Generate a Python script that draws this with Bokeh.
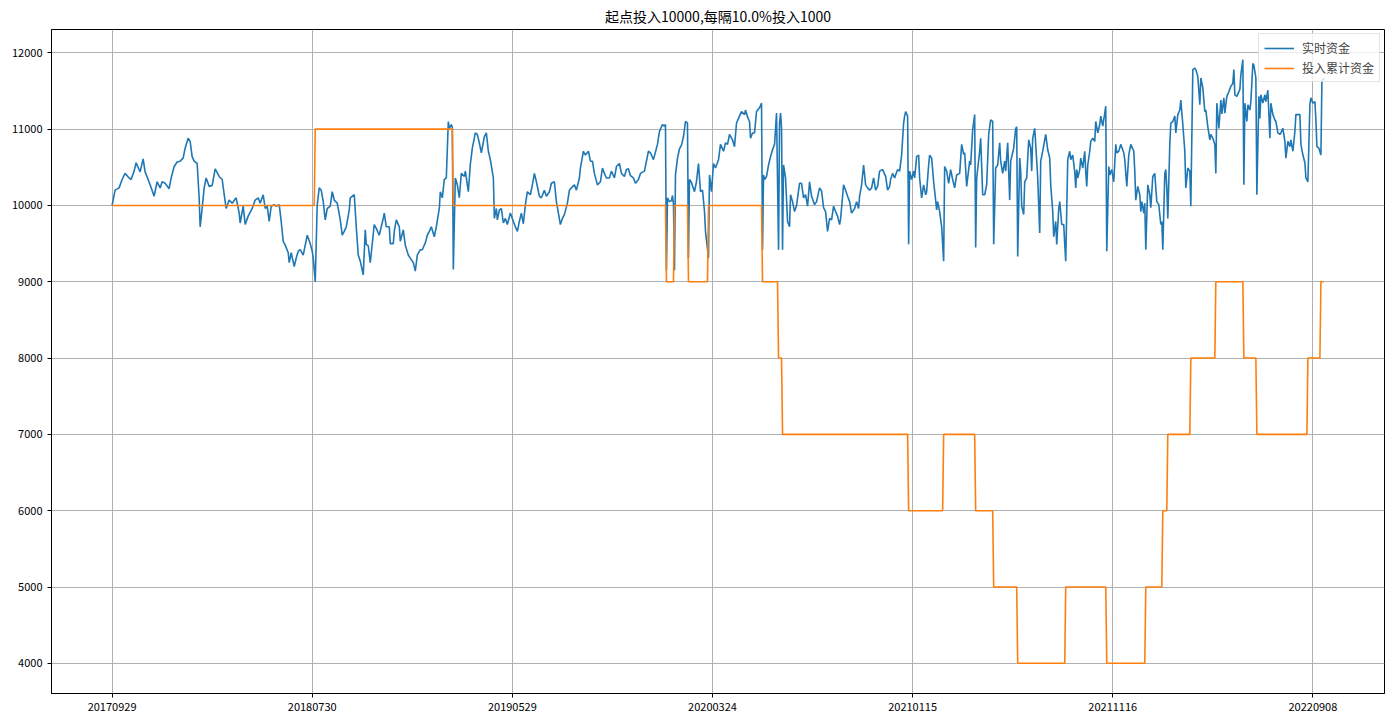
from bokeh.plotting import figure
from bokeh.models import FixedTicker, NumeralTickFormatter, Range1d, Legend, LegendItem
from bokeh.embed import file_html
from bokeh.resources import INLINE

title_text = "起点投入10000,每隔10.0%投入1000"
series_names = ["实时资金", "投入累计资金"]

tick_idx = [0, 200, 400, 600, 800, 1000, 1200]
tick_dates = ["20170929", "20180730", "20190529", "20200324", "20210115", "20211116", "20220908"]
y_ticks = [4000, 5000, 6000, 7000, 8000, 9000, 10000, 11000, 12000]

last_idx = 1211

# 实时资金 (day index, value)
blue_pts = [
    (0, 10000), (3, 10200), (7, 10230), (10, 10340), (13, 10420), (17, 10360), (19, 10340), (22, 10450),
    (24, 10560), (28, 10440), (31, 10610), (33, 10440), (36, 10340), (38, 10270), (42, 10120), (45, 10310),
    (48, 10230), (50, 10310), (53, 10290), (57, 10220), (59, 10360), (62, 10510), (65, 10570), (68, 10580),
    (71, 10620), (73, 10750), (76, 10880), (78, 10840), (80, 10640), (82, 10580), (85, 10550), (87, 10100),
    (88, 9720), (90, 9960), (92, 10230), (94, 10360), (97, 10250), (100, 10260), (103, 10480), (107, 10380),
    (110, 10340), (113, 10050), (114, 9960), (117, 10070), (120, 10030), (124, 10100), (127, 9900), (128, 9770),
    (131, 9990), (133, 9750), (136, 9860), (140, 9960), (143, 10070), (146, 10100), (148, 10030), (151, 10140),
    (153, 9960), (155, 9990), (157, 9790), (159, 9990), (162, 10010), (164, 9990), (167, 10010), (169, 9790),
    (171, 9530), (173, 9480), (176, 9380), (177, 9250), (179, 9380), (182, 9200), (184, 9310), (186, 9400),
    (188, 9420), (191, 9350), (193, 9480), (195, 9610), (198, 9500), (200, 9400), (201, 9310), (203, 9000),
    (205, 10010), (207, 10230), (209, 10200), (211, 10050), (213, 9810), (215, 9960), (218, 9990), (220, 10180),
    (222, 10070), (225, 10030), (228, 9810), (230, 9610), (232, 9660), (234, 9720), (237, 9940), (238, 10100),
    (242, 10140), (244, 9720), (246, 9350), (248, 9270), (251, 9090), (253, 9680), (254, 9490), (256, 9470),
    (258, 9250), (262, 9750), (264, 9700), (267, 9610), (269, 9720), (271, 9830), (272, 9900), (274, 9720),
    (277, 9720), (278, 9500), (281, 9500), (282, 9660), (284, 9810), (287, 9720), (288, 9530), (291, 9680),
    (293, 9480), (296, 9350), (298, 9310), (301, 9250), (303, 9140), (305, 9350), (308, 9420), (310, 9420),
    (313, 9510), (315, 9610), (317, 9660), (319, 9720), (322, 9590), (324, 9720), (327, 9960), (328, 10180),
    (330, 10100), (332, 10340), (334, 10360), (336, 11100), (337, 11010), (339, 11060), (340, 11020), (341, 9160),
    (343, 10360), (345, 10270), (347, 10100), (349, 10420), (352, 10380), (353, 10450), (356, 10180), (358, 10540),
    (360, 10750), (363, 10950), (365, 10930), (367, 10820), (369, 10690), (372, 10900), (374, 10950), (376, 10710),
    (378, 10600), (381, 10360), (382, 9830), (384, 9960), (385, 9810), (387, 9940), (389, 9960), (391, 9770),
    (393, 9830), (395, 9750), (398, 9900), (401, 9790), (403, 9720), (405, 9660), (407, 9790), (409, 9900),
    (411, 9760), (413, 10010), (415, 10180), (418, 10140), (420, 10270), (422, 10420), (424, 10310), (427, 10120),
    (429, 10100), (432, 10200), (434, 10120), (437, 10180), (439, 10290), (442, 10310), (444, 10050), (448, 9750),
    (450, 9830), (452, 9880), (455, 10030), (457, 10200), (459, 10230), (462, 10270), (464, 10200), (467, 10360),
    (468, 10490), (471, 10710), (473, 10660), (476, 10710), (478, 10580), (480, 10580), (482, 10420), (485, 10270),
    (488, 10310), (490, 10490), (492, 10420), (494, 10360), (497, 10360), (499, 10450), (502, 10360), (504, 10510),
    (507, 10550), (509, 10420), (512, 10380), (514, 10470), (516, 10480), (518, 10390), (521, 10360), (523, 10290),
    (526, 10340), (528, 10420), (532, 10450), (534, 10580), (536, 10710), (538, 10690), (541, 10600), (543, 10700),
    (545, 10800), (547, 10970), (550, 11060), (552, 11040), (553, 11060), (554, 9150), (555, 10100), (557, 10050),
    (559, 10060), (560, 10130), (561, 10020), (562, 9150), (563, 10400), (565, 10620), (567, 10740), (569, 10790),
    (571, 10900), (573, 11100), (575, 11080), (576, 9310), (577, 10340), (579, 10300), (582, 10180), (584, 10310),
    (586, 10550), (588, 10180), (590, 10200), (592, 9920), (593, 9660), (596, 9310), (597, 10400), (599, 10180),
    (601, 10550), (603, 10490), (606, 10600), (608, 10800), (611, 10710), (613, 10820), (615, 10800), (617, 10930),
    (620, 10860), (622, 10770), (624, 11080), (627, 11170), (629, 11230), (632, 11190), (633, 11250), (635, 11160),
    (637, 11100), (638, 10880), (640, 10950), (642, 10950), (644, 11230), (647, 11280), (649, 11340), (650, 9420),
    (651, 10400), (652, 10340), (654, 10380), (656, 10530), (658, 10640), (660, 10730), (662, 10800), (664, 11210),
    (666, 9420), (667, 11080), (668, 11210), (669, 11010), (670, 9420), (671, 10530), (673, 10360), (675, 9790),
    (677, 9720), (678, 10140), (680, 10050), (682, 9920), (684, 10000), (687, 10290), (689, 10290), (691, 10100),
    (693, 10140), (695, 9990), (697, 10310), (699, 10120), (702, 10010), (704, 10050), (707, 10230), (709, 10190),
    (711, 9970), (713, 9920), (715, 9660), (717, 9830), (719, 9810), (721, 9990), (723, 9920), (725, 9860),
    (727, 9750), (728, 9820), (731, 10270), (733, 10200), (735, 10120), (737, 10050), (739, 9900), (742, 9960),
    (744, 10050), (746, 9960), (747, 10120), (749, 10270), (751, 10530), (753, 10270), (755, 10230), (757, 10200),
    (759, 10230), (761, 10360), (763, 10200), (765, 10250), (767, 10450), (770, 10470), (773, 10380), (775, 10200),
    (777, 10250), (778, 10340), (780, 10420), (782, 10360), (783, 10400), (785, 10470), (787, 10450), (789, 10660),
    (791, 11080), (792, 11170), (793, 11230), (795, 11170), (796, 9490), (797, 10450), (799, 10340), (801, 10450),
    (802, 10360), (804, 10640), (806, 10660), (807, 10360), (809, 10100), (811, 10270), (813, 10140), (814, 10180),
    (816, 10530), (817, 10660), (819, 10620), (821, 10310), (823, 10070), (824, 9940), (825, 10050), (827, 9920),
    (829, 9720), (831, 9270), (832, 10510), (834, 10450), (836, 10290), (838, 10470), (840, 10340), (842, 10230),
    (844, 10400), (847, 10420), (849, 10800), (851, 10670), (852, 10690), (854, 10250), (857, 10580), (858, 10530),
    (860, 10990), (862, 11190), (863, 9450), (864, 10360), (867, 10710), (868, 10880), (870, 10140), (872, 10140),
    (874, 10270), (876, 10930), (878, 11120), (880, 11100), (881, 9490), (883, 10490), (885, 10530), (887, 10820),
    (888, 10580), (890, 10420), (892, 10580), (893, 10450), (895, 10820), (897, 10070), (898, 10580), (901, 10750),
    (903, 11010), (904, 11030), (905, 9330), (907, 10620), (908, 10450), (909, 9990), (911, 9880), (912, 10310),
    (914, 10360), (916, 10860), (918, 10750), (919, 10450), (920, 10880), (922, 11010), (923, 10800), (925, 10360),
    (927, 9640), (928, 10580), (930, 10710), (932, 10860), (933, 10930), (935, 10730), (937, 10620), (938, 10270),
    (940, 9920), (941, 9590), (943, 9790), (944, 9490), (946, 9960), (947, 10050), (949, 9750), (951, 9750),
    (952, 9490), (953, 9270), (955, 10600), (957, 10710), (958, 10600), (960, 10660), (962, 10440), (963, 10230),
    (964, 10470), (965, 10360), (967, 10470), (968, 10620), (970, 10490), (972, 10710), (973, 10440), (974, 10250),
    (975, 10530), (977, 10710), (978, 10840), (980, 10880), (982, 10840), (983, 11100), (985, 10950), (987, 11060),
    (988, 11170), (990, 11040), (992, 11210), (993, 11300), (994, 9400), (996, 10510), (997, 10400), (999, 10470),
    (1001, 10310), (1003, 10800), (1004, 10690), (1006, 10710), (1008, 10800), (1011, 10690), (1012, 10600),
    (1014, 10250), (1016, 10660), (1018, 10800), (1021, 10710), (1022, 10450), (1023, 10070), (1025, 10250),
    (1027, 10140), (1028, 9920), (1029, 10050), (1031, 9900), (1032, 10030), (1033, 9420), (1035, 10270),
    (1037, 10140), (1038, 9970), (1040, 10380), (1042, 10420), (1043, 10230), (1044, 10050), (1046, 10010),
    (1048, 9750), (1049, 9790), (1050, 9420), (1052, 10420), (1053, 10470), (1054, 10230), (1055, 9830),
    (1057, 10800), (1058, 11080), (1060, 11100), (1062, 11170), (1063, 10950), (1065, 11190), (1067, 11250),
    (1068, 11380), (1070, 11060), (1072, 10710), (1073, 10230), (1075, 10490), (1077, 10450), (1078, 9990),
    (1080, 11780), (1082, 11800), (1083, 11780), (1085, 11690), (1087, 11320), (1088, 11670), (1090, 11540),
    (1092, 11230), (1093, 11250), (1095, 11030), (1097, 10860), (1098, 10930), (1100, 10880), (1102, 10800),
    (1103, 10420), (1104, 11340), (1106, 11010), (1108, 11380), (1109, 11200), (1111, 11410), (1112, 11210),
    (1114, 11430), (1116, 11490), (1118, 11560), (1120, 11600), (1121, 11780), (1122, 11450), (1124, 11430),
    (1127, 11520), (1128, 11710), (1130, 11910), (1131, 10270), (1132, 11340), (1134, 11100), (1135, 11320),
    (1137, 11250), (1138, 11360), (1140, 11860), (1141, 11840), (1143, 11670), (1144, 10140), (1146, 11430),
    (1147, 11140), (1148, 11450), (1150, 11340), (1152, 11450), (1153, 11360), (1155, 11510), (1157, 10880),
    (1158, 11340), (1160, 11190), (1162, 11120), (1163, 11100), (1165, 10950), (1167, 10930), (1168, 10950),
    (1170, 11010), (1172, 10840), (1173, 10620), (1175, 10840), (1177, 10770), (1178, 10860), (1180, 10710),
    (1182, 10970), (1183, 11190), (1185, 11190), (1187, 11190), (1188, 10800), (1190, 10660), (1192, 10560),
    (1193, 10360), (1195, 10310), (1197, 11320), (1198, 11410), (1200, 11340), (1202, 11360), (1203, 11120),
    (1204, 10770), (1206, 10750), (1208, 10660), (1209, 11630), (1211, 11670),
]
blue_idx = [a for a, _ in blue_pts]
blue_val = [b for _, b in blue_pts]

# 投入累计资金: day index where a level starts, and the level
inv_start = [0, 203, 341, 554, 562, 576, 596, 650, 666, 670, 796, 831, 863, 881, 905, 953, 994, 1033,
             1050, 1055, 1078, 1103, 1131, 1144, 1195, 1208]
inv_level = [10000, 11000, 10000, 9000, 10000, 9000, 10000, 9000, 8000, 7000, 6000, 7000, 6000, 5000,
             4000, 5000, 4000, 5000, 6000, 7000, 8000, 9000, 8000, 7000, 8000, 9000]

ox, oy = [], []
for k, (s, v) in enumerate(zip(inv_start, inv_level)):
    e = inv_start[k + 1] - 1 if k + 1 < len(inv_start) else last_idx
    ox += [s, e]
    oy += [v, v]

FONT = "Noto Sans CJK SC"
BLUE = "#1f77b4"
ORANGE = "#ff7f0e"

xpad = last_idx * 0.05
ymin, ymax = min(min(blue_val), min(inv_level)), max(max(blue_val), max(inv_level))
ypad = (ymax - ymin) * 0.05

p = figure(frame_width=1333, frame_height=664, output_backend="svg", toolbar_location=None,
           x_range=Range1d(-xpad, last_idx + xpad), y_range=Range1d(ymin - ypad, ymax + ypad),
           min_border_left=51, min_border_right=4, min_border_top=20, min_border_bottom=22,
           title=title_text)
p.title.align = "center"
p.title.text_font = FONT
p.title.text_font_size = "14px"
p.title.text_font_style = "normal"
p.title.text_color = "black"
p.title.standoff = 7

r1 = p.line(blue_idx, blue_val, line_color=BLUE, line_width=1.6)
r2 = p.line(ox, oy, line_color=ORANGE, line_width=1.6)

p.xaxis.ticker = FixedTicker(ticks=tick_idx)
p.xaxis.major_label_overrides = {t: d for t, d in zip(tick_idx, tick_dates)}
p.yaxis.ticker = FixedTicker(ticks=y_ticks)
p.yaxis.formatter = NumeralTickFormatter(format="0")
for ax in (p.xaxis, p.yaxis):
    ax.major_label_text_font = FONT
    ax.major_label_text_font_size = "11px"
    ax.major_label_text_color = "black"
    ax.minor_tick_line_color = None
    ax.major_tick_in = 0
    ax.major_tick_out = 4
    ax.major_tick_line_color = "black"
    ax.axis_line_color = "black"
p.xgrid.ticker = FixedTicker(ticks=tick_idx)
p.ygrid.ticker = FixedTicker(ticks=y_ticks)
p.grid.grid_line_color = "#b0b0b0"
p.grid.grid_line_width = 1
p.outline_line_color = "black"
p.outline_line_alpha = 1
p.background_fill_color = "white"
p.border_fill_color = "white"

legend = Legend(items=[LegendItem(label=series_names[0], renderers=[r1]),
                       LegendItem(label=series_names[1], renderers=[r2])],
                location="top_right")
legend.label_text_font = FONT
legend.label_text_font_size = "12px"
legend.border_line_color = "#cccccc"
legend.background_fill_alpha = 0.8
legend.margin = 4
legend.padding = 5
legend.spacing = 3
legend.glyph_width = 30
legend.glyph_height = 16
legend.label_height = 16
legend.label_standoff = 8
p.add_layout(legend)

open("out.html", "w").write(file_html(p, INLINE))
